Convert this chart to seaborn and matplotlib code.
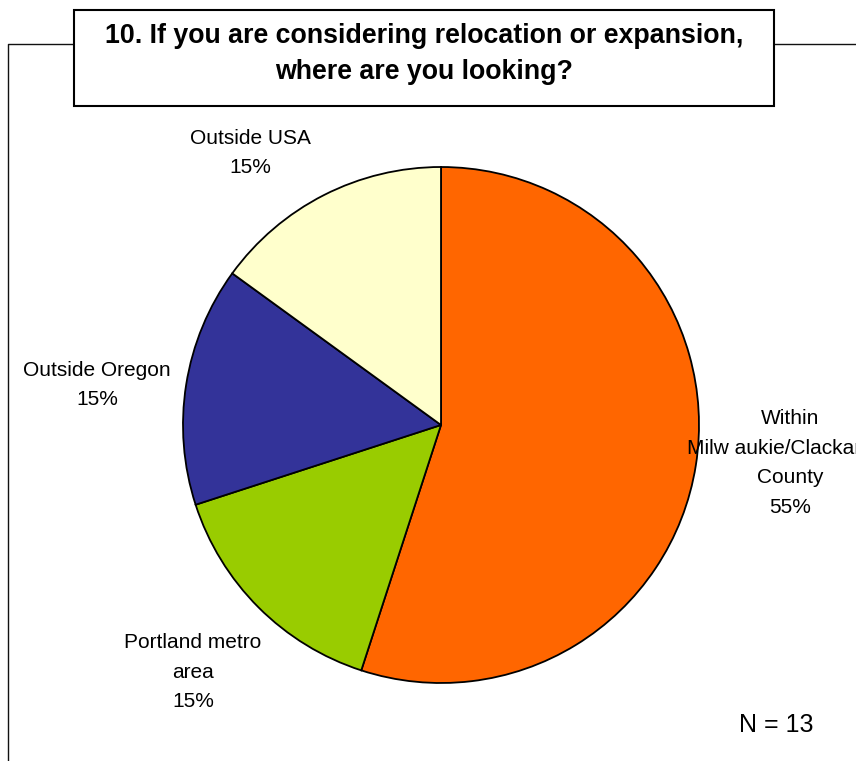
import matplotlib
matplotlib.use("Agg")
import matplotlib.pyplot as plt
from matplotlib.patches import Rectangle
import seaborn as sns

# Survey responses (percent of respondents)
categories = ["Within\nMilw aukie/Clackamas\nCounty", "Portland metro\narea",
              "Outside Oregon", "Outside USA"]
values = [55, 15, 15, 15]
colors = ["#FF6600", "#99CC00", "#333399", "#FFFFCC"]
title = "10. If you are considering relocation or expansion,\nwhere are you looking?"
n_note = "N = 13"

sns.set_theme(style="white")
plt.rcParams["font.family"] = ["Liberation Sans", "DejaVu Sans"]

W, H = 856, 761
fig = plt.figure(figsize=(W / 100, H / 100), dpi=100)
fig.patch.set_facecolor("white")
ax = fig.add_axes([0, 0, 1, 1])


def Y(y):
    """Convert a top-down pixel row into the axes' bottom-up coordinate."""
    return H - y


pie_center = (441, Y(425))
pie_radius = 258
ax.pie(values, colors=colors, startangle=90, counterclock=False,
       center=pie_center, radius=pie_radius,
       wedgeprops=dict(edgecolor="black", linewidth=1.3))

ax.set_xlim(0, W)
ax.set_ylim(0, H)
ax.set_aspect("equal")
ax.axis("off")

# Chart frame (left and top edges, broken by the title box)
ax.plot([8, 8, 74], [Y(761), Y(44), Y(44)], color="#111111", lw=1.0,
        solid_capstyle="butt", clip_on=False)
ax.plot([774, 856], [Y(44), Y(44)], color="#111111", lw=1.0, clip_on=False)

# Title box
ax.add_patch(Rectangle((74, Y(106)), 700, 96, facecolor="white",
                       edgecolor="black", lw=1.5, zorder=3))
ax.text(424, Y(54), title, ha="center", va="center", fontsize=19.3,
        fontweight="bold", linespacing=1.52, zorder=4, color="black")

# Slice labels
label_pos = [(790, Y(463)), (193, Y(672)), (97, Y(385)), (250, Y(153))]
for cat, val, (x, y) in zip(categories, values, label_pos):
    ax.text(x, y, f"{cat}\n{val}%", ha="center", va="center",
            fontsize=15, linespacing=1.72, color="black")

ax.text(776, Y(725), n_note, ha="center", va="center", fontsize=18,
        color="black")

fig.savefig("out.png", dpi=100, facecolor="white")
